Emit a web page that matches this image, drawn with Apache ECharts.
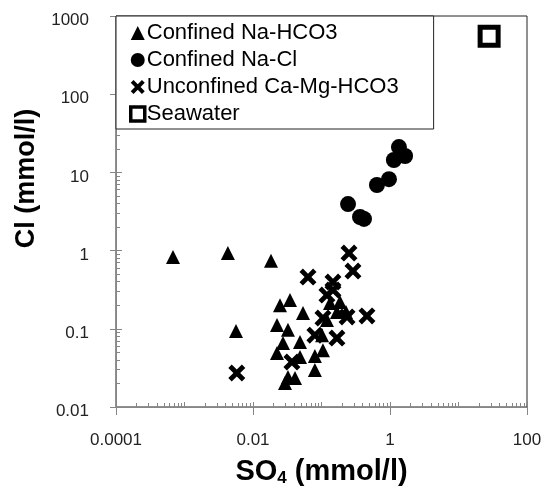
<!DOCTYPE html>
<html>
<head>
<meta charset="utf-8">
<script src="https://cdn.jsdelivr.net/npm/echarts@6/dist/echarts.min.js"></script>
<style>
  html, body { margin: 0; padding: 0; background: #fff; }
  #main { width: 544px; height: 493px; }
</style>
</head>
<body>
<div id="main"></div>
<script>
// [SO4, Cl] in mmol/l
const confinedNaHCO3 = [
  [0.00068, 0.83], [0.0043, 0.93], [0.0183, 0.74], [0.00565, 0.094],
  [0.0347, 0.233], [0.0248, 0.2], [0.0537, 0.159], [0.0224, 0.112],
  [0.0324, 0.097], [0.0485, 0.068], [0.0274, 0.066], [0.0224, 0.049],
  [0.0485, 0.0435], [0.08, 0.0297], [0.0324, 0.0242], [0.0293, 0.0203],
  [0.041, 0.0235], [0.08, 0.045], [0.105, 0.053], [0.12, 0.13],
  [0.186, 0.22], [0.168, 0.164], [0.228, 0.164], [0.133, 0.214], [0.102, 0.083]
];
const confinedNaCl = [
  [0.244, 3.94], [0.365, 2.69], [0.417, 2.54], [0.645, 6.9],
  [0.966, 8.2], [1.14, 14.4], [1.35, 21.1], [1.66, 16.2]
];
const unconfinedCaMgHCO3 = [
  [0.252, 0.93], [0.288, 0.548], [0.0635, 0.459], [0.147, 0.396],
  [0.12, 0.27], [0.147, 0.313], [0.461, 0.146], [0.236, 0.142],
  [0.168, 0.076], [0.08, 0.083], [0.037, 0.0376], [0.0058, 0.0272], [0.105, 0.137]
];
const seawater = [[28, 550]];
const seriesNames = ["Confined Na-HCO3", "Confined Na-Cl", "Unconfined Ca-Mg-HCO3", "Seawater"];
const xTicks = [0.0001, 0.01, 1, 100];
const yTicks = [0.01, 0.1, 1, 10, 100, 1000];

const crossPath = "path://M2,0 L5,3 L8,0 L10,2 L7,5 L10,8 L8,10 L5,7 L2,10 L0,8 L3,5 L0,2 Z";
const font = "'Liberation Sans', Arial, sans-serif";
const axisGray = "#868686";
let fmt = (v) => String(+v.toPrecision(3));

let myChart = echarts.init(document.getElementById("main"));
let option = {
  backgroundColor: "#fff",
  animation: false,
  textStyle: { fontFamily: font },
  grid: {
    left: 116, top: 16, right: 17, bottom: 86,
    outerBoundsMode: "none",
    containLabel: false,
    show: true, borderColor: "#222", borderWidth: 1, backgroundColor: "transparent"
  },
  legend: {
    orient: "vertical",
    left: 116, top: 16,
    padding: [6, 35, 4, 13],
    itemGap: 5,
    itemWidth: 14, itemHeight: 14,
    backgroundColor: "#fff",
    borderColor: "#222", borderWidth: 1,
    textStyle: { fontSize: 22, color: "#000", fontFamily: font, padding: [0, 0, 0, -3] },
    data: [
      seriesNames[0],
      seriesNames[1],
      seriesNames[2],
      { name: seriesNames[3], icon: "rect", itemStyle: { color: "#fff", borderColor: "#000", borderWidth: 3.5 } }
    ]
  },
  xAxis: [
    {
      type: "log", logBase: 10,
      min: xTicks[0], max: xTicks[xTicks.length - 1], interval: 2,
      name: "{a|SO}{b|4}{a| (mmol/l)}",
      nameLocation: "middle", nameGap: 50,
      nameTextStyle: {
        rich: {
          a: { fontSize: 29, fontWeight: "bold", color: "#000", fontFamily: font },
          b: { fontSize: 17, fontWeight: "bold", color: "#000", fontFamily: font, verticalAlign: "bottom", padding: [13, 0, 0, 0] }
        }
      },
      axisLine: { show: true, lineStyle: { color: axisGray } },
      axisTick: { show: true, inside: false, length: 8, lineStyle: { color: axisGray } },
      axisLabel: { fontSize: 17, color: "#222", margin: 25, formatter: fmt },
      splitLine: { show: false }
    },
    {
      type: "log", logBase: 10,
      min: xTicks[0], max: xTicks[xTicks.length - 1], interval: 1,
      position: "bottom",
      axisLine: { show: false },
      axisTick: { show: true, inside: true, length: 5, lineStyle: { color: axisGray } },
      minorTick: { show: true, splitNumber: 9, length: 4, lineStyle: { color: axisGray } },
      axisLabel: { show: false },
      splitLine: { show: false }
    }
  ],
  yAxis: [
    {
      type: "log", logBase: 10,
      min: yTicks[0], max: yTicks[yTicks.length - 1], interval: 1,
      name: "Cl (mmol/l)",
      nameLocation: "middle", nameGap: 71,
      nameTextStyle: { fontSize: 27, fontWeight: "bold", color: "#000", padding: [0, 0, 0, 66] },
      axisLine: { show: true, lineStyle: { color: axisGray } },
      axisTick: { show: true, inside: false, length: 6, lineStyle: { color: axisGray } },
      axisLabel: { fontSize: 17, color: "#222", margin: 27, formatter: fmt, verticalAlign: "top", lineHeight: 9 },
      splitLine: { show: false }
    },
    {
      type: "log", logBase: 10,
      min: yTicks[0], max: yTicks[yTicks.length - 1], interval: 1,
      position: "left",
      axisLine: { show: false },
      axisTick: { show: true, inside: true, length: 6, lineStyle: { color: axisGray } },
      minorTick: { show: true, splitNumber: 9, length: 4, lineStyle: { color: axisGray } },
      axisLabel: { show: false },
      splitLine: { show: false }
    }
  ],
  series: [
    {
      name: seriesNames[0], type: "scatter", data: confinedNaHCO3,
      symbol: "triangle", symbolSize: 14,
      itemStyle: { color: "#000", opacity: 1 }
    },
    {
      name: seriesNames[1], type: "scatter", data: confinedNaCl,
      symbol: "circle", symbolSize: 16,
      itemStyle: { color: "#000", opacity: 1 }
    },
    {
      name: seriesNames[2], type: "scatter", data: unconfinedCaMgHCO3,
      symbol: crossPath, symbolSize: 17,
      itemStyle: { color: "#000", opacity: 1 }
    },
    {
      name: seriesNames[3], type: "scatter", data: seawater,
      symbol: "rect", symbolSize: 18,
      itemStyle: { color: "#fff", borderColor: "#000", borderWidth: 5, opacity: 1 }
    }
  ]
};
myChart.setOption(option);
</script>
</body>
</html>
